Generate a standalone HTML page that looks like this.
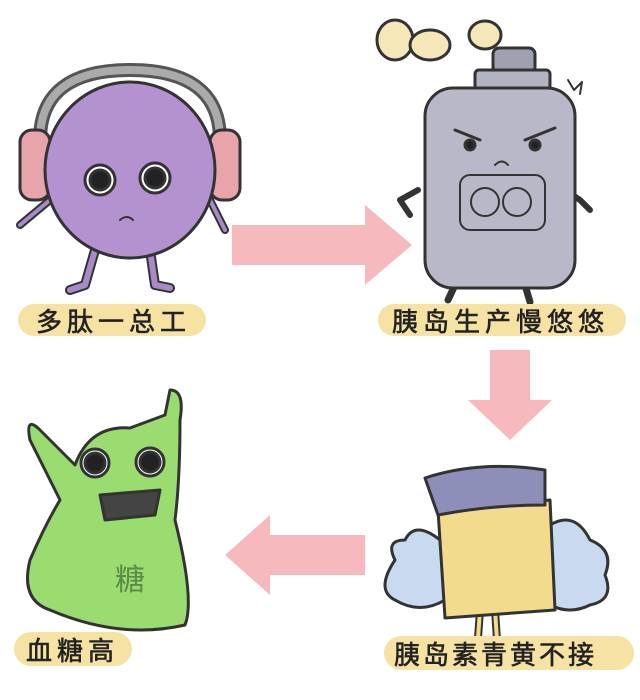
<!DOCTYPE html>
<html><head><meta charset="utf-8"><style>
html,body{margin:0;padding:0;background:#fff;}
svg{display:block}
text{font-family:"Liberation Sans","WenQuanYi Zen Hei","Noto Sans CJK SC",sans-serif;fill:#222;}
.lb{font-size:26px;letter-spacing:5px;stroke:#222;stroke-width:0.6px;}
</style></head><body>
<svg width="640" height="700" viewBox="0 0 640 700" xmlns="http://www.w3.org/2000/svg">
<g stroke="#333" stroke-width="3" stroke-linejoin="round" stroke-linecap="round">
<!-- Arrows -->
<polygon points="232,225 365,225 365,205 412,245 365,285 365,265 232,265" fill="#f6b9bd" stroke="none"/>
<polygon points="490,350 530,350 530,400 552,400 510,440 468,400 490,400" fill="#f6b9bd" stroke="none"/>
<polygon points="365,535 270,535 270,515 225,555 270,595 270,575 365,575" fill="#f6b9bd" stroke="none"/>

<!-- purple character -->
<path d="M40,140 Q40,70 130,70 Q220,70 220,140" fill="none" stroke="#555" stroke-width="14"/>
<path d="M40,140 Q40,70 130,70 Q220,70 220,140" fill="none" stroke="#aaa" stroke-width="8"/>
<rect x="20" y="130" width="30" height="70" rx="12" fill="#e7a4aa"/>
<rect x="210" y="130" width="30" height="70" rx="12" fill="#e7a4aa"/>
<path d="M95,250 L85,285 L70,290 M150,250 L155,285 L170,288" fill="none" stroke-width="10" stroke="#333"/>
<path d="M95,250 L85,285 L70,290 M150,250 L155,285 L170,288" fill="none" stroke-width="6" stroke="#a98ac8"/>
<path d="M50,200 L20,225 M210,200 L225,230" fill="none" stroke-width="8" stroke="#333"/>
<path d="M50,200 L20,225 M210,200 L225,230" fill="none" stroke-width="4" stroke="#a98ac8"/>
<ellipse cx="130" cy="170" rx="85" ry="88" fill="#b491cf"/>
<circle cx="100" cy="180" r="15" fill="#fff"/><circle cx="100" cy="180" r="10" fill="#222"/>
<circle cx="155" cy="178" r="15" fill="#fff"/><circle cx="155" cy="178" r="10" fill="#222"/>
<path d="M120,220 Q127,214 133,220" fill="none" stroke-width="2"/>

<!-- gray bottle -->
<ellipse cx="395" cy="40" rx="18" ry="20" fill="#f6e7b8"/>
<ellipse cx="430" cy="45" rx="20" ry="15" fill="#f6e7b8"/>
<ellipse cx="485" cy="35" rx="16" ry="14" fill="#f6e7b8"/>
<path d="M455,285 L448,300 M525,285 L530,302" fill="none" stroke-width="7"/>
<path d="M418,190 L400,200 L410,215 M565,190 L580,200 L590,210" fill="none" stroke-width="6"/>
<rect x="493" y="48" width="42" height="25" rx="6" fill="#9fa0b0"/>
<rect x="475" y="70" width="75" height="20" rx="4" fill="#b3b4c2"/>
<rect x="425" y="88" width="150" height="200" rx="28" fill="#b8b8c8"/>
<rect x="460" y="175" width="85" height="55" rx="10" fill="none" stroke-width="2"/>
<circle cx="485" cy="202" r="14" fill="none" stroke-width="2"/><circle cx="517" cy="202" r="14" fill="none" stroke-width="2"/>
<path d="M455,130 L480,140 M525,140 L555,128" fill="none"/>
<circle cx="470" cy="145" r="5" fill="#222"/><circle cx="535" cy="145" r="5" fill="#222"/>
<path d="M495,165 Q502,158 508,165" fill="none" stroke-width="2"/>
<path d="M568,80 l6,10 l8,-8 l-2,12" fill="none" stroke-width="2"/>

<!-- green blob -->
<path d="M50,610 Q20,600 30,560 Q45,525 60,500 L30,440 Q25,415 40,430 L75,465 Q90,425 130,428 L165,415 L170,390 Q185,390 180,420 Q180,480 175,520 Q195,600 185,625 Q120,640 50,610 Z" fill="#9bdc70"/>
<circle cx="95" cy="463" r="14" fill="#fff"/><circle cx="95" cy="463" r="10" fill="#222"/>
<circle cx="150" cy="462" r="14" fill="#fff"/><circle cx="150" cy="462" r="10" fill="#222"/>
<path d="M100,495 L160,490 L155,515 L105,520 Z" fill="#444"/>
<text x="115" y="590" font-size="30" style="fill:#5a8a44" stroke="none">糖</text>

<!-- yellow cup -->
<path d="M480,610 L478,638 M495,610 L497,640" fill="none" stroke-width="8"/>
<path d="M480,610 L478,638 M495,610 L497,640" fill="none" stroke-width="4" stroke="#f3d98a"/>
<path d="M395,560 Q385,540 405,540 Q415,520 440,540 L445,600 Q420,615 395,600 Q375,590 395,560 Z" fill="#c9daf0"/>
<path d="M550,525 Q575,510 590,540 Q615,550 605,575 Q615,600 590,605 Q570,615 550,605 Z" fill="#c9daf0"/>
<path d="M438,510 L550,500 L555,610 L445,618 Z" fill="#f3db8e"/>
<path d="M425,478 Q480,460 545,470 L545,505 Q490,505 438,515 Z" fill="#8e8fb8"/>
</g>

<!-- labels -->
<rect x="18" y="304" width="188" height="32" rx="16" fill="#f6e2a2"/>
<text x="36" y="331" class="lb">多肽一总工</text>
<rect x="378" y="304" width="248" height="32" rx="16" fill="#f6e2a2"/>
<text x="392" y="331" class="lb">胰岛生产慢悠悠</text>
<rect x="14" y="632" width="118" height="34" rx="17" fill="#f6e2a2"/>
<text x="26" y="660" class="lb">血糖高</text>
<rect x="384" y="636" width="250" height="34" rx="17" fill="#f6e2a2"/>
<text x="394" y="664" class="lb" style="letter-spacing:3px">胰岛素青黄不接</text>
</svg>
</body></html>
